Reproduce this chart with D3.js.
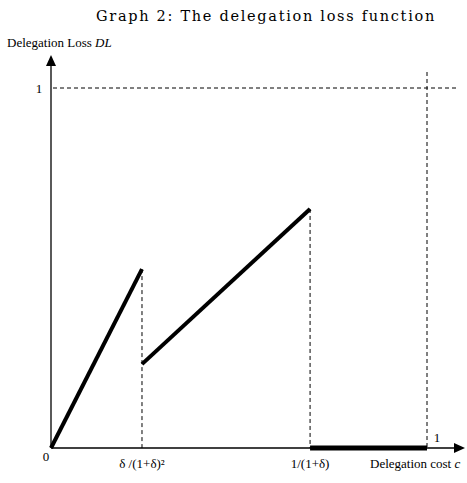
<!DOCTYPE html>
<html><head><meta charset="utf-8">
<script src="https://cdn.jsdelivr.net/npm/d3@7"></script>
<style>body{margin:0;background:#fff}svg{display:block}</style>
</head><body>
<svg id="chart" width="467" height="483"></svg>
<script>
// Data
const segment1 = [{c:0, dl:0}, {c:0.242, dl:0.497}];
const segment2 = [{c:0.242, dl:0.233}, {c:0.689, dl:0.664}];
const segment3 = [{c:0.689, dl:0}, {c:1, dl:0}];
const xTickValues = [0.242, 0.689];
const xTickLabels = ["δ /(1+δ)²", "1/(1+δ)"];
const dropLines = [{c:0.242, dl:0.497}, {c:0.689, dl:0.664}];

const svg = d3.select("#chart");
const x = d3.scaleLinear().domain([0,1]).range([51,427]);
const y = d3.scaleLinear().domain([0,1]).range([448,88]);
const serif = "'Liberation Serif','Times New Roman',serif";

// title
svg.append("text").attr("x",266).attr("y",21).attr("text-anchor","middle")
  .attr("font-family","'DejaVu Serif',serif").attr("font-size",14.5)
  .attr("letter-spacing",1.7).attr("fill","#000")
  .text("Graph 2: The delegation loss function");

// dashed reference lines
svg.append("line").attr("x1",x(0)+2).attr("x2",458).attr("y1",y(1)).attr("y2",y(1))
  .attr("stroke","#000").attr("stroke-width",1).attr("stroke-dasharray","4,3");
svg.append("line").attr("x1",x(1)).attr("x2",x(1)).attr("y1",72).attr("y2",y(0))
  .attr("stroke","#000").attr("stroke-width",1).attr("stroke-dasharray","4,3");
dropLines.forEach(d=>{
  svg.append("line").attr("x1",x(d.c)).attr("x2",x(d.c)).attr("y1",y(d.dl)).attr("y2",y(0))
    .attr("stroke","#000").attr("stroke-width",1).attr("stroke-dasharray","4,3");
});

// axes
svg.append("line").attr("x1",x(0)).attr("x2",x(0)).attr("y1",y(0)).attr("y2",62)
  .attr("stroke","#000").attr("stroke-width",1.3);
svg.append("path").attr("d",`M${x(0)},55 L${x(0)-5},66 L${x(0)+5},66 Z`).attr("fill","#000");
svg.append("line").attr("x1",x(0)).attr("x2",458).attr("y1",y(0)).attr("y2",y(0))
  .attr("stroke","#000").attr("stroke-width",1.3);
svg.append("path").attr("d",`M465,${y(0)} L454,${y(0)-5} L454,${y(0)+5} Z`).attr("fill","#000");

// function segments
const line = d3.line().x(d=>x(d.c)).y(d=>y(d.dl));
[segment1, segment2].forEach(s=>{
  svg.append("path").attr("d",line(s)).attr("fill","none").attr("stroke","#000")
    .attr("stroke-width",4);
});
svg.append("path").attr("d",line(segment3)).attr("fill","none").attr("stroke","#000")
  .attr("stroke-width",5).attr("stroke-linecap","butt");

// text labels
const t = (xx,yy,txt,anchor="start")=>svg.append("text").attr("x",xx).attr("y",yy)
  .attr("text-anchor",anchor).attr("font-family",serif).attr("font-size",13).attr("fill","#000").text(txt);
const yl = t(7,47,"Delegation Loss ");
yl.append("tspan").attr("font-style","italic").text("DL");
t(39,93,"1","middle");
t(46,461,"0","middle");
xTickValues.forEach((v,i)=>t(x(v),468,xTickLabels[i],"middle"));
const xl = t(370,468,"Delegation cost ");
xl.append("tspan").attr("font-style","italic").text("c");
t(437,442,"1","middle");
</script>
</body></html>
